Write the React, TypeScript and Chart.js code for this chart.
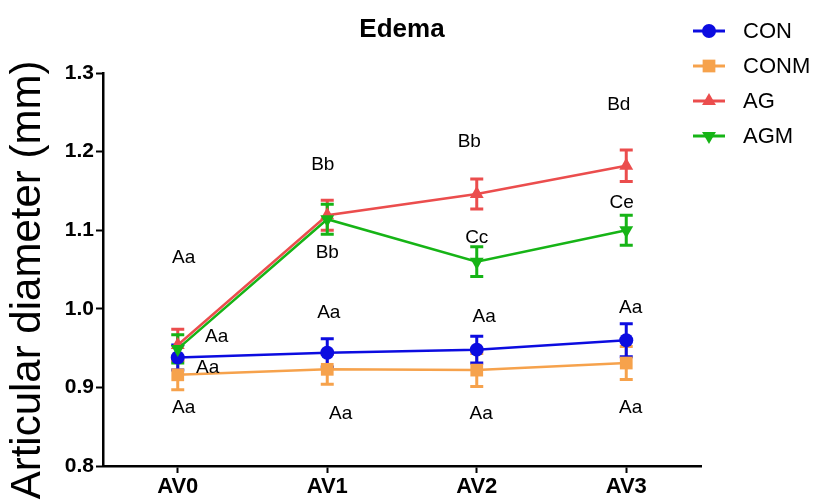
import React, { useEffect, useRef } from 'react';
import { Chart, registerables } from 'chart.js';

Chart.register(...registerables);

const categories = ['AV0', 'AV1', 'AV2', 'AV3'];
const seriesNames = ['CON', 'CONM', 'AG', 'AGM'];
const conValues = [0.938, 0.944, 0.948, 0.960];
const conErrors = [0.016, 0.018, 0.017, 0.021];
const conmValues = [0.916, 0.923, 0.922, 0.931];
const conmErrors = [0.019, 0.019, 0.021, 0.021];
const agValues = [0.954, 1.119, 1.146, 1.182];
const agErrors = [0.020, 0.019, 0.019, 0.020];
const agmValues = [0.949, 1.114, 1.060, 1.100];
const agmErrors = [0.018, 0.019, 0.019, 0.019];

const yMin = 0.8;
const yMax = 1.3;
const yStep = 0.1;

const annotText = ['Aa', 'Aa', 'Aa', 'Aa', 'Bb', 'Bb', 'Aa', 'Aa', 'Bb', 'Cc', 'Aa', 'Aa', 'Bd', 'Ce', 'Aa', 'Aa'];
const annotX = [0.04, 0.26, 0.2, 0.04, 0.97, 1.0, 1.01, 1.09, 1.95, 2.0, 2.05, 2.03, 2.95, 2.97, 3.03, 3.03];
const annotY = [1.065, 0.965, 0.925, 0.874, 1.183, 1.071, 0.995, 0.866, 1.213, 1.091, 0.99, 0.867, 1.259, 1.135, 1.001, 0.874];

const titleText = 'Edema';
const yTitleText = 'Articular diameter (mm)';

const colors = ['#0c0ce0', '#f6a24c', '#eb4d4d', '#16b416'];
const pointStyles = ['circle', 'rect', 'triangle', 'triangle'];
const pointRotations = [0, 0, 0, 180];
const pointRadii = [7, 9, 8, 8];
const drawOrder = [1, 2, 3, 0];

const FONT = "'Liberation Sans', Arial, Helvetica, sans-serif";

function drawMarker(ctx: CanvasRenderingContext2D, style: string, x: number, y: number, r: number, rot: number, color: string) {
  ctx.save();
  ctx.fillStyle = color;
  ctx.beginPath();
  if (style === 'circle') {
    ctx.arc(x, y, r, 0, Math.PI * 2);
  } else if (style === 'rect') {
    const s = Math.SQRT1_2 * r;
    ctx.rect(x - s, y - s, 2 * s, 2 * s);
  } else {
    const dir = rot === 180 ? -1 : 1;
    ctx.moveTo(x, y - dir * r);
    ctx.lineTo(x - r * 0.866, y + dir * r * 0.5);
    ctx.lineTo(x + r * 0.866, y + dir * r * 0.5);
    ctx.closePath();
  }
  ctx.fill();
  ctx.restore();
}

export default function App() {
  const canvasRef = useRef<HTMLCanvasElement | null>(null);

  useEffect(() => {
    const canvas = canvasRef.current;
    if (!canvas) return;
    const values = [conValues, conmValues, agValues, agmValues];
    const errors = [conErrors, conmErrors, agErrors, agmErrors];

    const extras = {
      id: 'extras',
      beforeDatasetsDraw(chart: any) {
        const ctx = chart.ctx as CanvasRenderingContext2D;
        const yScale = chart.scales.y;
        ctx.save();
        const idx = [0, 1, 2, 3].sort((a, b) => drawOrder[b] - drawOrder[a]);
        for (const i of idx) {
          const meta = chart.getDatasetMeta(i);
          ctx.strokeStyle = colors[i];
          ctx.lineWidth = 3;
          for (let j = 0; j < values[i].length; j++) {
            const x = meta.data[j].x;
            const yt = yScale.getPixelForValue(values[i][j] + errors[i][j]);
            const yb = yScale.getPixelForValue(values[i][j] - errors[i][j]);
            ctx.beginPath();
            ctx.moveTo(x, yt);
            ctx.lineTo(x, yb);
            ctx.moveTo(x - 6.5, yt);
            ctx.lineTo(x + 6.5, yt);
            ctx.moveTo(x - 6.5, yb);
            ctx.lineTo(x + 6.5, yb);
            ctx.stroke();
          }
        }
        ctx.restore();
      },
      afterDraw(chart: any) {
        const ctx = chart.ctx as CanvasRenderingContext2D;
        const area = chart.chartArea;
        const xScale = chart.scales.x;
        const yScale = chart.scales.y;
        ctx.save();
        ctx.fillStyle = '#000';
        ctx.font = `bold 26px ${FONT}`;
        ctx.textAlign = 'center';
        ctx.textBaseline = 'middle';
        ctx.fillText(titleText, (area.left + area.right) / 2, 30);
        ctx.save();
        ctx.translate(28, 280);
        ctx.rotate(-Math.PI / 2);
        ctx.font = `42px ${FONT}`;
        ctx.fillText(yTitleText, 0, 0);
        ctx.restore();
        const p0 = xScale.getPixelForValue(0);
        const p1 = xScale.getPixelForValue(1);
        ctx.font = `19px ${FONT}`;
        for (let k = 0; k < annotText.length; k++) {
          const px = p0 + annotX[k] * (p1 - p0);
          const py = yScale.getPixelForValue(annotY[k]);
          ctx.fillText(annotText[k], px, py);
        }
        ctx.textAlign = 'left';
        ctx.font = `22px ${FONT}`;
        for (let i = 0; i < seriesNames.length; i++) {
          const ly = 31 + i * 35;
          ctx.strokeStyle = colors[i];
          ctx.lineWidth = 3;
          ctx.beginPath();
          ctx.moveTo(693, ly);
          ctx.lineTo(725, ly);
          ctx.stroke();
          drawMarker(ctx, pointStyles[i], 709, ly, pointRadii[i], pointRotations[i], colors[i]);
          ctx.fillStyle = '#000';
          ctx.fillText(seriesNames[i], 743, ly + 1);
        }
        ctx.restore();
      },
    };

    const chart = new Chart(canvas, {
      type: 'line',
      data: {
        labels: categories,
        datasets: seriesNames.map((name, i) => ({
          label: name,
          data: values[i],
          order: drawOrder[i],
          borderColor: colors[i],
          backgroundColor: colors[i],
          borderWidth: 2.5,
          pointStyle: pointStyles[i] as any,
          rotation: pointRotations[i],
          pointRadius: pointRadii[i],
          pointBorderWidth: 0,
          pointBackgroundColor: colors[i],
          tension: 0,
        })),
      },
      options: {
        responsive: false,
        animation: false,
        devicePixelRatio: 1,
        layout: { padding: { top: 73, right: 116, left: 0, bottom: 0 } },
        plugins: {
          legend: { display: false },
          tooltip: { enabled: false },
          title: { display: false },
        },
        scales: {
          x: {
            type: 'category',
            offset: true,
            afterFit: (s: any) => { s.height = 36; },
            grid: { offset: false, drawOnChartArea: false, drawTicks: true, tickLength: 7, tickWidth: 2, tickColor: '#000' },
            border: { display: true, color: '#000', width: 2.5 },
            ticks: { color: '#000', font: { family: FONT, size: 22, weight: 'bold' }, padding: 1, maxRotation: 0 },
          },
          y: {
            type: 'linear',
            min: yMin,
            max: yMax,
            afterFit: (s: any) => { s.width = 103; },
            grid: { drawOnChartArea: false, drawTicks: true, tickLength: 7, tickWidth: 2, tickColor: '#000' },
            border: { display: true, color: '#000', width: 2.5 },
            ticks: {
              stepSize: yStep,
              color: '#000',
              padding: 2,
              font: { family: FONT, size: 21, weight: 'bold' },
              callback: (v: any) => Number(v).toFixed(1),
            },
          },
        },
      },
      plugins: [extras],
    });
    return () => chart.destroy();
  }, []);

  return (
    <div style={{ position: 'fixed', left: 0, top: 0, width: 817, height: 502, background: '#fff' }}>
      <canvas ref={canvasRef} width={817} height={502} style={{ width: 817, height: 502, display: 'block' }} />
    </div>
  );
}
